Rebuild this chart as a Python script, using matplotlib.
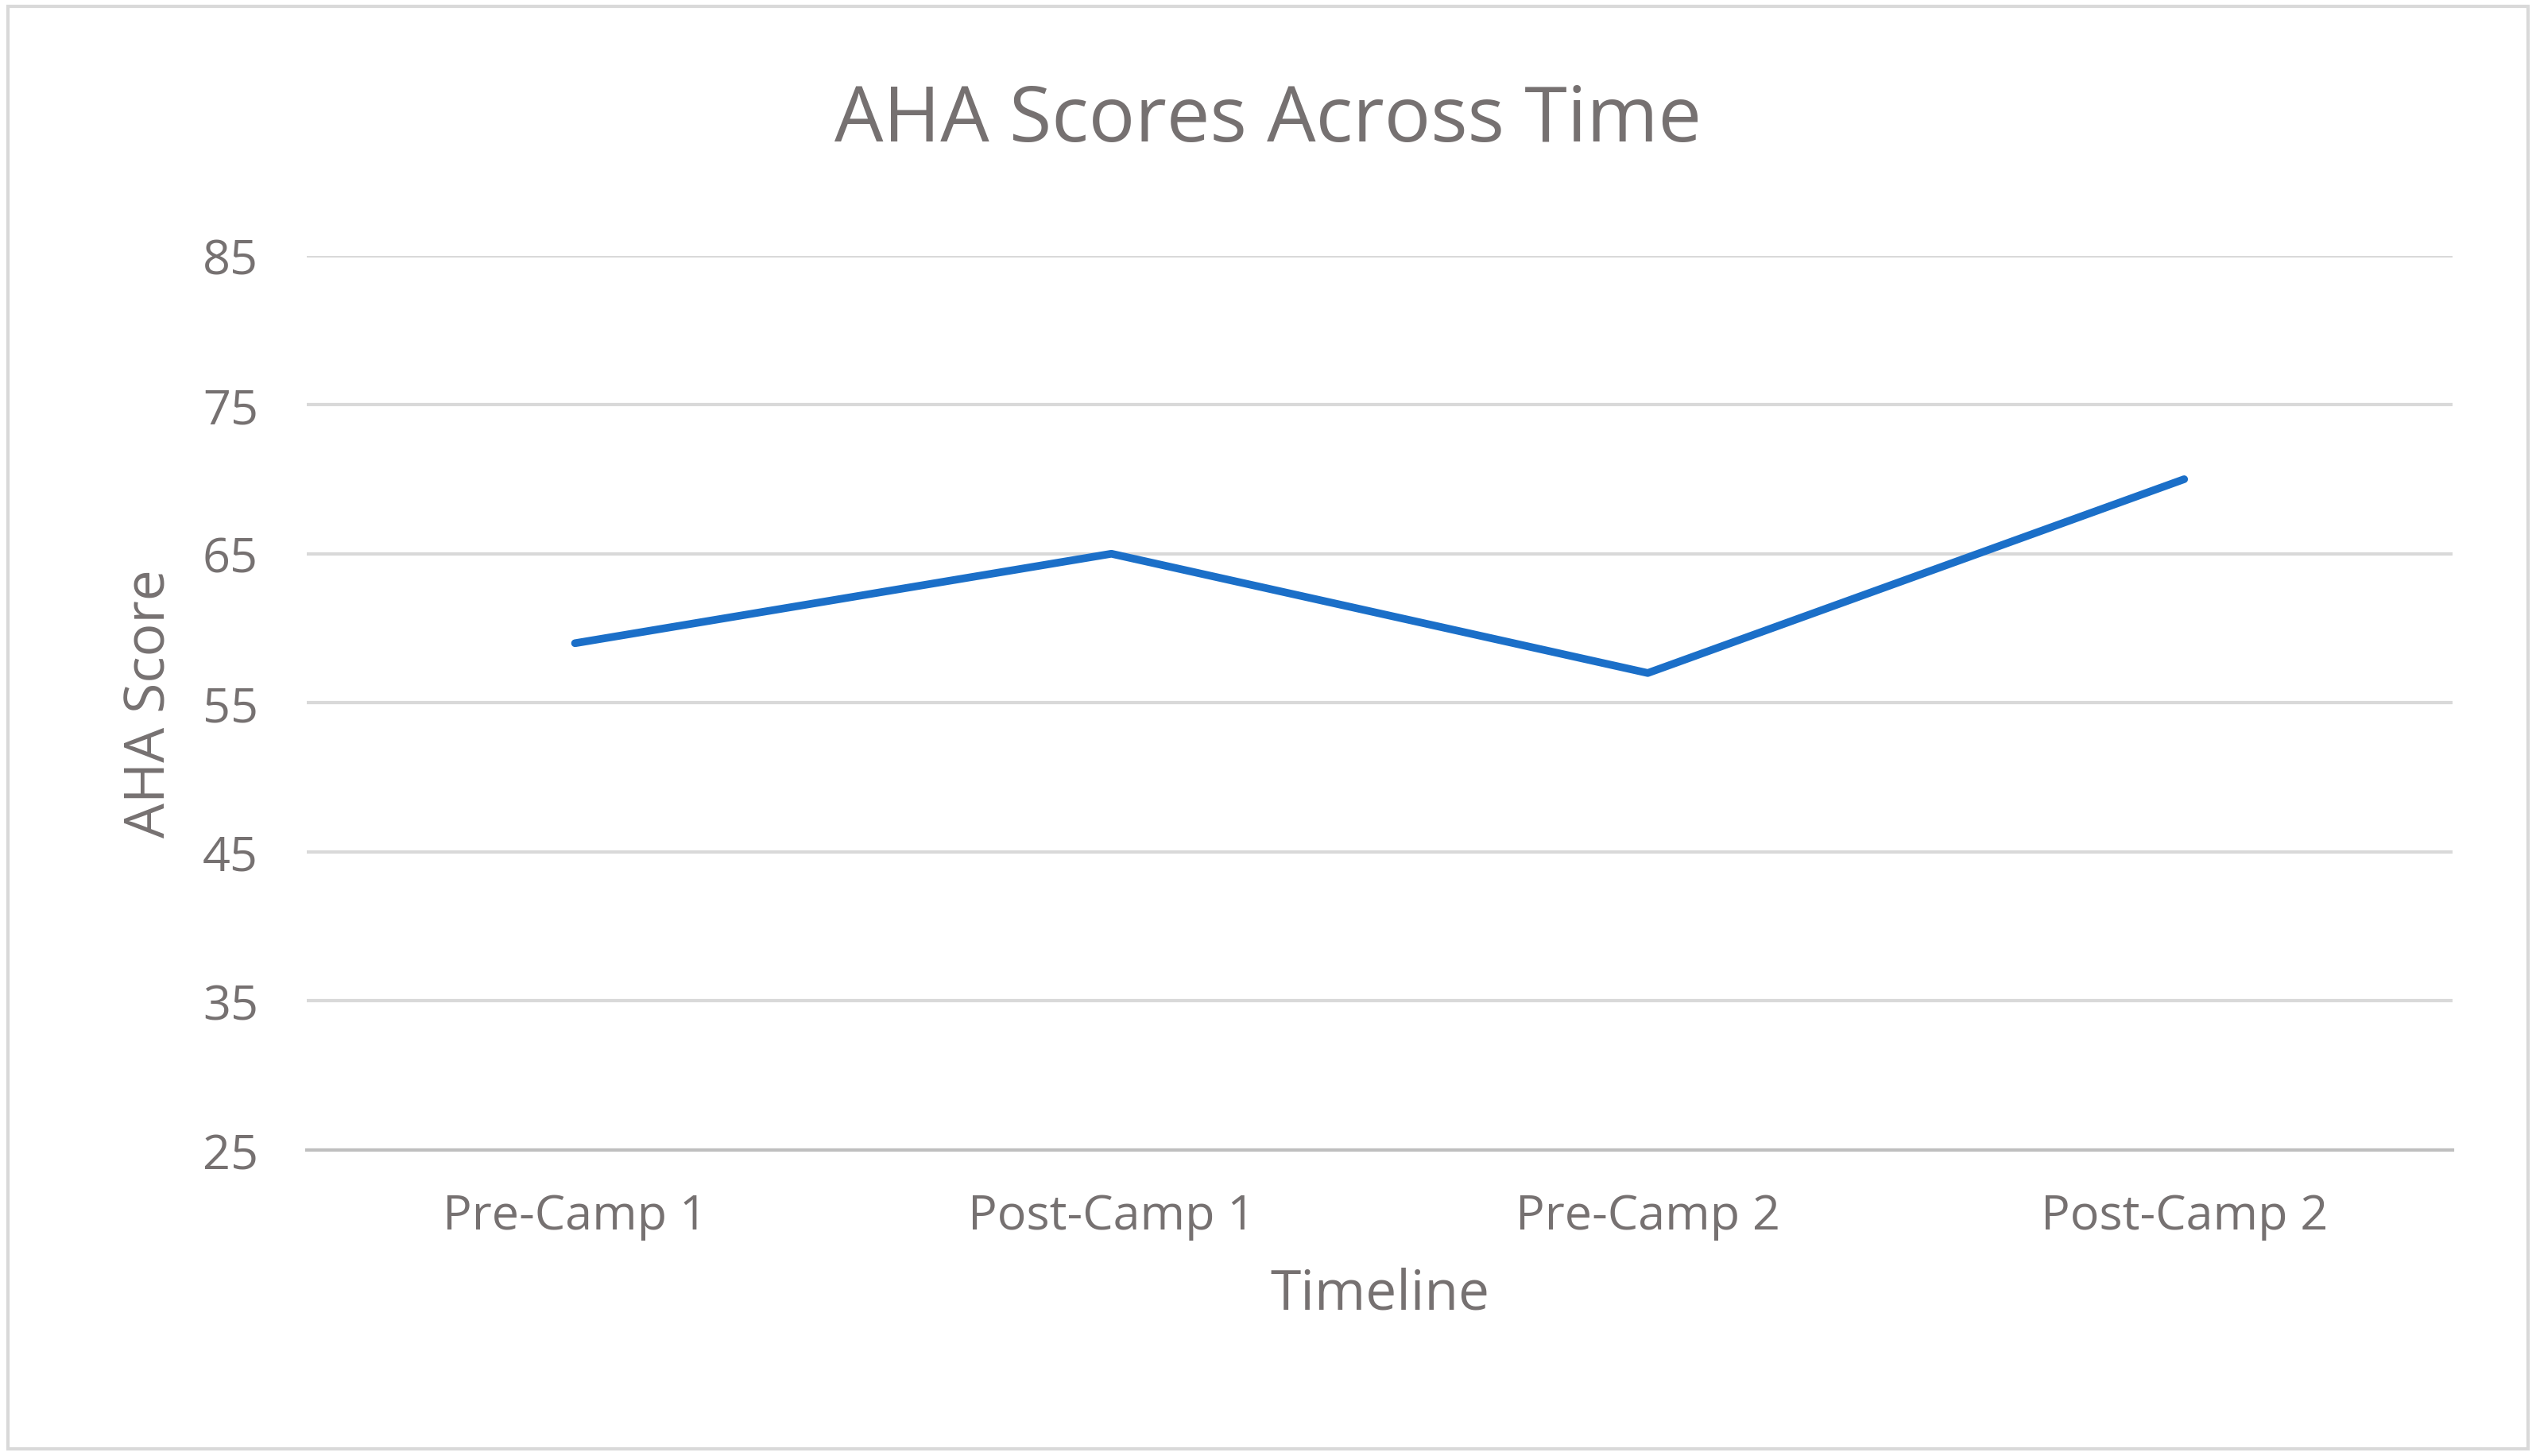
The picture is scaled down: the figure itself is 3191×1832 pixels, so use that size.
import matplotlib.pyplot as plt
from matplotlib.patches import Rectangle

timeline = ['Pre-Camp 1', 'Post-Camp 1', 'Pre-Camp 2', 'Post-Camp 2']
aha_score = [59, 65, 57, 70]

plt.rcParams['font.family'] = ['Open Sans', 'DejaVu Sans']
grey = '#767171'

fig = plt.figure(figsize=(31.91, 18.33), dpi=100)
ax = fig.add_axes([0.121, 0.21, 0.846, 0.614])

x = range(len(timeline))
ax.plot(x, aha_score, color='#1B6FC8', linewidth=7, solid_capstyle='round')

ax.set_xlim(-0.5, len(timeline) - 0.5)
ax.set_ylim(25, 85)
ax.set_yticks(range(25, 86, 10))
ax.set_xticks(list(x))
ax.set_xticklabels(timeline)
ax.tick_params(axis='both', labelsize=44, colors=grey, length=0)
ax.tick_params(axis='x', pad=38)
ax.tick_params(axis='y', pad=44)
ax.grid(axis='y', color='#D9D9D9', linewidth=3)
ax.set_axisbelow(True)
for s in ['top', 'right', 'left']:
    ax.spines[s].set_visible(False)
ax.spines['bottom'].set_color('#BFBFBF')
ax.spines['bottom'].set_linewidth(3)

ax.set_xlabel('Timeline', fontsize=50, color=grey, labelpad=24)
ax.set_ylabel('AHA Score', fontsize=50, color=grey, labelpad=22)
fig.text(0.5, 0.917, 'AHA Scores Across Time', fontsize=70, color=grey,
         ha='center', va='center')

fig.patches.append(Rectangle((0.003, 0.005), 0.994, 0.99, transform=fig.transFigure,
                             fill=False, edgecolor='#D9D9D9', linewidth=3))

fig.savefig('out.png', dpi=100)
